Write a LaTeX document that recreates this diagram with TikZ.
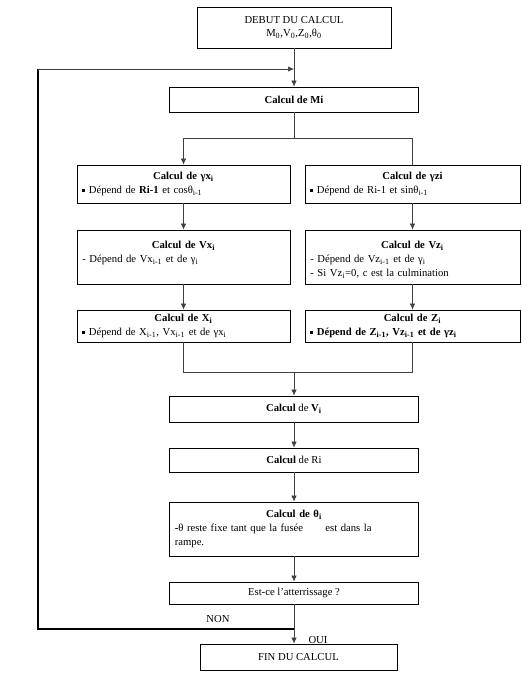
\documentclass[tikz,border=0pt]{standalone}
\usepackage{fontspec}
\setmainfont{Liberation Serif}
\usetikzlibrary{arrows.meta}
\newcommand{\sqb}{\rule[1.3pt]{2.2pt}{2.2pt}}
\newcommand{\ttl}[1]{\makebox[\linewidth]{\textbf{#1}}}
\begin{document}
\begin{tikzpicture}[x=0.75pt,y=-0.75pt,
  box/.style={draw, line width=0.55pt, inner xsep=4pt, inner ysep=1pt,
    font=\fontsize{8}{10.5}\selectfont, align=center},
  cbox/.style={box, minimum width=186.75pt},
  lbox/.style={box, align=left, text width=151.75pt},
  rbox/.style={box, align=left, text width=153.25pt},
  intext/.style={inner xsep=4pt, inner ysep=1pt, font=\fontsize{8}{10.5}\selectfont,
    align=left, anchor=north},
  arr/.style={-{Latex[length=4.5pt,width=4pt]}},
  conn/.style={line width=0.5pt, draw=black!75},
  loopline/.style={line width=1.1pt},
  lbl/.style={font=\fontsize{8}{9}\selectfont, inner sep=1pt}]
\useasboundingbox (0,0) rectangle (522,676);

\node[box, minimum width=145.5pt, minimum height=30.75pt] (debut) at (294,27.5)
  {DEBUT DU CALCUL\\[-1pt] M\textsubscript{0},V\textsubscript{0},Z\textsubscript{0},θ\textsubscript{0}};
\node[cbox, minimum height=18.75pt] (mi) at (294,99.5) {\textbf{Calcul de Mi}};

\node[lbox, minimum height=28.5pt] (gx) at (183.5,184)
  {\ttl{Calcul de γx\textsubscript{i}}\\ \sqb\ Dépend de \textbf{Ri-1} et cosθ\textsubscript{i-1}};
\node[rbox, minimum height=28.5pt] (gz) at (412.5,184)
  {\ttl{Calcul de γzi}\\ \sqb\ Dépend de Ri-1 et sinθ\textsubscript{i-1}};

\node[box, minimum width=159.75pt, minimum height=40.5pt] (vx) at (183.5,257) {};
\node[intext, text width=151.75pt] (vxt) at ([yshift=-7.5pt]vx.north)
  {\ttl{Calcul de Vx\textsubscript{i}}\\ - Dépend de Vx\textsubscript{i-1} et de γ\textsubscript{i}};
\node[box, minimum width=161.25pt, minimum height=40.5pt] (vz) at (412.5,257) {};
\node[intext, text width=153.25pt] (vzt) at ([yshift=-7.5pt]vz.north)
  {\ttl{Calcul de Vz\textsubscript{i}}\\ - Dépend de Vz\textsubscript{i-1} et de γ\textsubscript{i}\\ - Si Vz\textsubscript{i}=0, c est la culmination};

\node[lbox, minimum height=24pt] (xb) at (183.5,326)
  {\ttl{Calcul de X\textsubscript{i}}\\ \sqb\ Dépend de X\textsubscript{i-1}, Vx\textsubscript{i-1} et de γx\textsubscript{i}};
\node[rbox, minimum height=24pt] (zb) at (412.5,326)
  {\ttl{Calcul de Z\textsubscript{i}}\\ \textbf{\sqb\ Dépend de Z\textsubscript{i-1}, Vz\textsubscript{i-1} et de γz\textsubscript{i}}};

\node[cbox, minimum height=19.5pt] (vi) at (294,409) {\textbf{Calcul} de \textbf{V\textsubscript{i}}};
\node[cbox, minimum height=18pt] (ri) at (294,460) {\textbf{Calcul} de Ri};
\node[cbox, align=left, text width=178.75pt, minimum height=40.5pt] (th) at (294,529)
  {\ttl{Calcul de θ\textsubscript{i}}\\ \textbf{-}θ reste fixe tant que la fusée\hspace{14pt} est dans la\\ rampe.};
\node[cbox, minimum height=16.5pt] (est) at (294,593) {Est-ce l'atterrissage ?};
\node[box, minimum width=147.75pt, minimum height=19.5pt] (fin) at (298.5,657) {FIN DU CALCUL};

\node[lbl] (non) at (218,619) {NON};
\node[lbl] (oui) at (318,640) {OUI};

% connectors
\coordinate (sp) at (294,138);
\coordinate (spl) at (183.5,138);
\coordinate (spr) at (412.5,138);
\coordinate (ml) at (183.5,372);
\coordinate (mr) at (412.5,372);
\coordinate (mm) at (294,372);
\coordinate (lp) at (294,629);
\coordinate (lb) at (38,629);
\coordinate (lt) at (38,69);
\coordinate (le) at (294,69);

\draw[conn, arr] (debut.south) -- (mi.north);
\draw[conn] (mi.south) -- (sp);
\draw[conn] (spl) -- (spr);
\draw[conn, arr] (spl) -- (gx.north);
\draw[conn] (spr) -- (gz.north);
\draw[conn, arr] (gx.south) -- (vx.north);
\draw[conn, arr] (gz.south) -- (vz.north);
\draw[conn, arr] (vx.south) -- (xb.north);
\draw[conn, arr] (vz.south) -- (zb.north);
\draw[conn] (xb.south) -- (ml) -- (mr) -- (zb.south);
\draw[conn, arr] (mm) -- (vi.north);
\draw[conn, arr] (vi.south) -- (ri.north);
\draw[conn, arr] (ri.south) -- (th.north);
\draw[conn, arr] (th.south) -- (est.north);
\draw[conn, arr] (est.south) -- (est.south |- fin.north);
\draw[loopline] (lp) -- (lb) -- (lt);
\draw[conn, arr] (lt) -- (le);
\end{tikzpicture}
\end{document}
